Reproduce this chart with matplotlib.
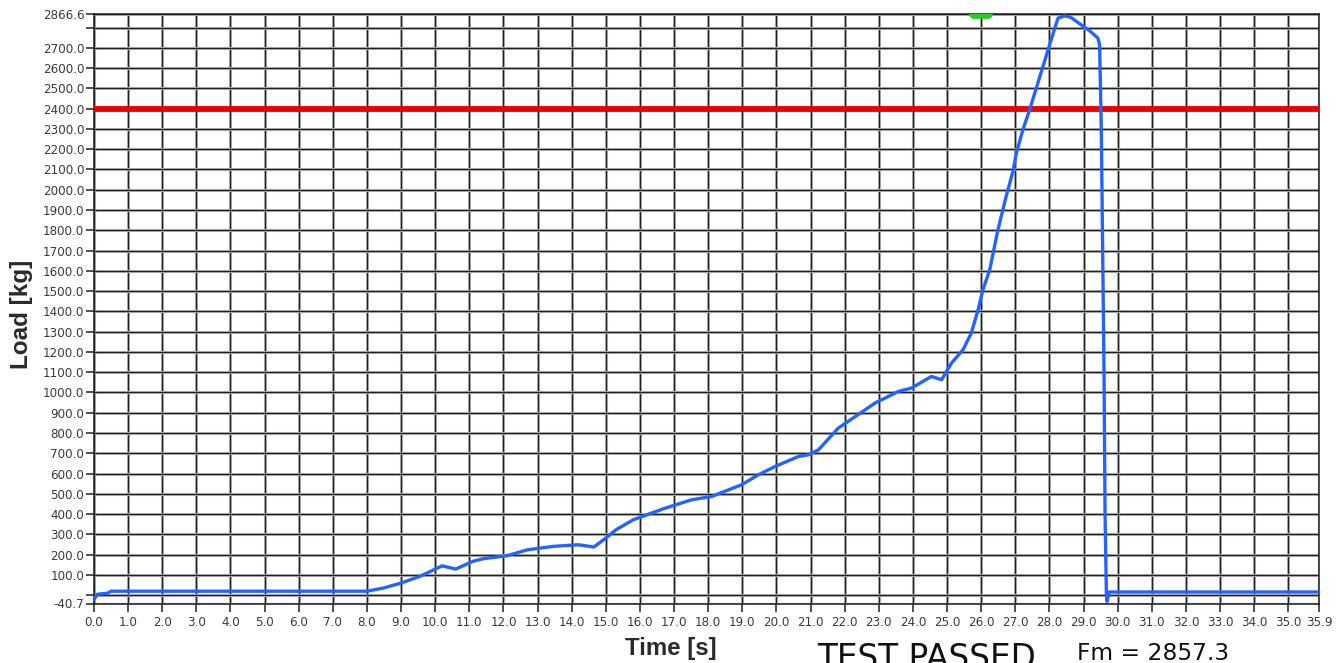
import matplotlib
matplotlib.use("Agg")
import matplotlib.pyplot as plt

# Load curve read from the test record
time_s = [0.0, 0.1, 0.4, 0.5, 8.0, 8.47, 9.0, 9.55, 9.85, 10.2, 10.6, 11.1, 11.4,
          12.1, 12.7, 13.45, 14.2, 14.65, 15.0, 15.3, 15.8, 16.55, 16.75, 17.52,
          18.1, 18.98, 19.47, 19.96, 20.64, 20.94, 21.23, 21.81, 22.89, 23.57,
          23.96, 24.54, 24.84, 25.13, 25.47, 25.71, 25.91, 26.05, 26.25, 26.49,
          26.73, 26.93, 27.03, 27.22, 27.42, 27.75, 28.05, 28.25, 28.45, 28.63,
          28.93, 29.17, 29.42, 29.47, 29.52, 29.55, 29.6, 29.63, 29.67, 29.69,
          29.75, 35.9]
load_kg = [-20, 5, 10, 20, 20, 35, 60, 93, 117, 145, 129, 167, 180,
           195, 224, 241, 249, 238, 282, 323, 372, 418, 430, 471,
           487, 545, 594, 635, 684, 693, 717, 824, 948, 1005,
           1022, 1079, 1063, 1145, 1211, 1293, 1408, 1506, 1605, 1802,
           1966, 2090, 2180, 2295, 2394, 2575, 2739, 2846, 2857.3, 2850,
           2813, 2785, 2748, 2714, 2304, 1850, 1097, 400, 0, -30,
           16, 16]

limit_kg = 2400.0
f_max = 2857.3
y_min, y_max = -40.7, 2866.6
x_max = 35.9
marker_x = [25.8, 26.2]

x_ticks = list(range(0, 36)) + [x_max]
x_labels = [f"{t:.1f}" for t in x_ticks]
y_ticks = [y_min] + list(range(0, 2900, 100)) + [y_max]
y_labels = ["" if v in (0, 2800) else f"{v:.1f}" for v in y_ticks]

fig = plt.figure(figsize=(13.42, 6.63), dpi=100)
ax = fig.add_axes([94 / 1342, 1 - 603.5 / 663, 1225 / 1342, 589.5 / 663])

# grid: thin dark line with a soft grey halo
for t in x_ticks:
    ax.axvline(t, color="#b0b0b0", lw=2.2, zorder=1)
    ax.axvline(t, color="#202020", lw=0.85, zorder=1)
for v in y_ticks:
    ax.axhline(v, color="#b0b0b0", lw=2.2, zorder=1)
    ax.axhline(v, color="#202020", lw=0.85, zorder=1)

ax.axhline(limit_kg, color="#e80000", lw=4.2, zorder=3)
ax.plot(time_s, load_kg, color="#2463ff", lw=2.4, zorder=4)
ax.plot(marker_x, [y_max, y_max], color="#22cc22", lw=7,
        solid_capstyle="round", zorder=5)

ax.set_xlim(0, x_max)
ax.set_ylim(y_min, y_max)
ax.set_xticks(x_ticks)
ax.set_xticklabels(x_labels)
ax.set_yticks(y_ticks)
ax.set_yticklabels(y_labels)
ax.tick_params(direction="out", length=6, width=1.1, color="#222222",
               labelsize=8.6, labelcolor="#3a3a3a", pad=1)
ax.tick_params(axis="x", pad=3)
for s in ax.spines.values():
    s.set_color("#1e1e1e")
    s.set_linewidth(1.1)

fig.text(21.5 / 1342, 1 - 314 / 663, "Load [kg]", rotation=90, ha="center",
         va="center", fontsize=17.5, fontweight="bold", color="#2a2a2a",
         family="Liberation Sans")
fig.text(671 / 1342, 1 - 654.5 / 663, "Time [s]", ha="center", va="baseline",
         fontsize=17.3, fontweight="bold", color="#2a2a2a",
         family="Liberation Sans")
fig.text(816.7 / 1342, 1 - 667.8 / 663, "TEST PASSED", ha="left", va="baseline",
         fontsize=23.5, color="#111111")
fig.text(1076.7 / 1342, 1 - 659.5 / 663, f"Fm = {f_max}", ha="left",
         va="baseline", fontsize=16.8, color="#111111")

fig.savefig("out.png", dpi=100)
